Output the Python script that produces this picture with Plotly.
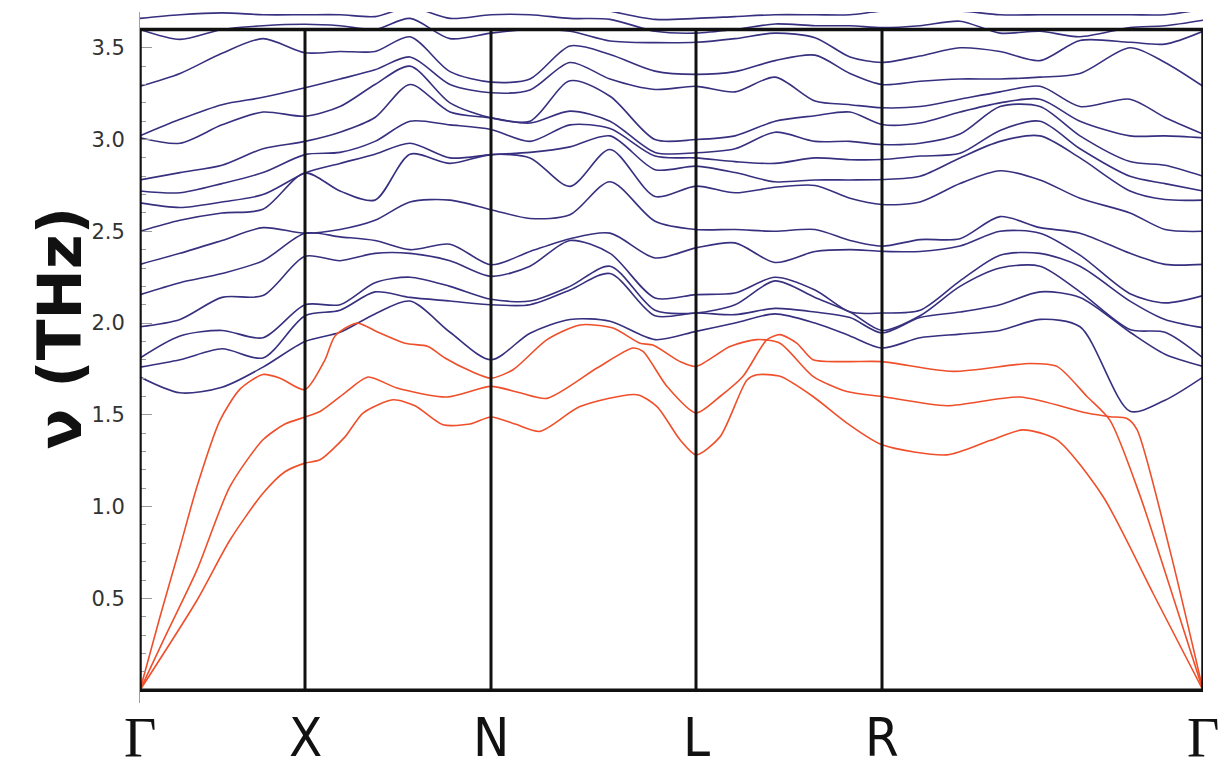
import plotly.graph_objects as go

# ---------------- data ----------------
SYM_LABELS = ["Γ", "X", "N", "L", "R", "Γ"]
SYM_K = [0.0, 1.65, 3.51, 5.56, 7.42, 10.63]
FREQ_TOP = 3.6
Y_TICKS = [0.5, 1.0, 1.5, 2.0, 2.5, 3.0, 3.5]

# path coordinates of the columns at which optical branches are sampled
K_GAMMA_X = [0.0, 0.40, 0.82, 1.23, 1.65]
K_X_N = [2.00, 2.35, 2.70, 3.10, 3.51]
K_N_L = [3.90, 4.30, 4.70, 5.15, 5.56]
K_L_R = [5.95, 6.35, 6.75, 7.10, 7.42]
K_R_GAMMA = [7.80, 8.20, 8.60, 9.00, 9.40, 9.90, 10.25, 10.63]

# optical branch frequencies (THz), one list per column, lowest branch first
OPT_GAMMA_X = [
    [1.706, 1.76, 1.81, 1.98, 2.155, 2.32, 2.50, 2.655, 2.72, 2.78, 3.01, 3.02, 3.29, 3.60, 3.66, 3.72],
    [1.62, 1.80, 1.93, 2.02, 2.22, 2.38, 2.56, 2.63, 2.71, 2.82, 2.98, 3.11, 3.36, 3.546, 3.68, 3.74],
    [1.65, 1.86, 1.96, 2.14, 2.27, 2.45, 2.60, 2.66, 2.76, 2.86, 3.08, 3.19, 3.47, 3.60, 3.69, 3.75],
    [1.76, 1.81, 1.92, 2.15, 2.34, 2.52, 2.62, 2.70, 2.82, 2.95, 3.15, 3.23, 3.55, 3.62, 3.68, 3.75],
    [1.90, 2.04, 2.10, 2.364, 2.49, 2.49, 2.818, 2.818, 2.918, 2.99, 3.127, 3.282, 3.473, 3.628, 3.68, 3.75],
]
OPT_X_N = [
    [1.95, 2.07, 2.10, 2.34, 2.47, 2.51, 2.72, 2.87, 2.93, 3.04, 3.18, 3.33, 3.48, 3.62, 3.68, 3.75],
    [2.05, 2.17, 2.22, 2.38, 2.45, 2.56, 2.67, 2.92, 2.99, 3.12, 3.30, 3.38, 3.48, 3.60, 3.67, 3.75],
    [2.12, 2.14, 2.25, 2.38, 2.40, 2.66, 2.92, 2.98, 3.10, 3.30, 3.40, 3.45, 3.56, 3.66, 3.72, 3.76],
    [1.95, 2.12, 2.20, 2.34, 2.43, 2.67, 2.87, 2.90, 3.08, 3.15, 3.20, 3.30, 3.37, 3.55, 3.66, 3.74],
    [1.80, 2.10, 2.13, 2.255, 2.318, 2.618, 2.918, 2.918, 3.055, 3.118, 3.118, 3.255, 3.313, 3.58, 3.68, 3.74],
]
OPT_N_L = [
    [1.945, 2.10, 2.12, 2.31, 2.39, 2.57, 2.90, 2.93, 2.99, 3.09, 3.10, 3.27, 3.33, 3.60, 3.68, 3.74],
    [2.02, 2.18, 2.20, 2.45, 2.46, 2.59, 2.745, 2.96, 3.08, 3.155, 3.32, 3.42, 3.51, 3.59, 3.66, 3.74],
    [2.01, 2.27, 2.31, 2.38, 2.49, 2.77, 2.946, 3.02, 3.06, 3.10, 3.236, 3.33, 3.464, 3.537, 3.655, 3.70],
    [1.91, 2.04, 2.07, 2.137, 2.355, 2.555, 2.69, 2.836, 2.91, 2.93, 3.00, 3.273, 3.373, 3.528, 3.59, 3.655],
    [1.955, 2.055, 2.055, 2.155, 2.41, 2.51, 2.746, 2.855, 2.90, 2.928, 3.00, 3.29, 3.355, 3.53, 3.58, 3.66],
]
OPT_L_R = [
    [2.00, 2.046, 2.10, 2.164, 2.437, 2.51, 2.71, 2.82, 2.88, 2.95, 3.02, 3.26, 3.37, 3.55, 3.60, 3.67],
    [2.05, 2.08, 2.23, 2.25, 2.33, 2.50, 2.74, 2.77, 2.87, 3.04, 3.10, 3.34, 3.43, 3.58, 3.63, 3.68],
    [2.00, 2.06, 2.14, 2.18, 2.39, 2.51, 2.75, 2.78, 2.90, 2.99, 3.13, 3.21, 3.46, 3.555, 3.62, 3.68],
    [1.93, 2.03, 2.06, 2.06, 2.40, 2.45, 2.68, 2.78, 2.89, 2.99, 3.15, 3.19, 3.36, 3.45, 3.62, 3.68],
    [1.864, 1.946, 1.96, 2.055, 2.391, 2.419, 2.646, 2.782, 2.891, 2.973, 3.082, 3.173, 3.30, 3.42, 3.61, 3.70],
]
OPT_R_GAMMA = [
    [1.92, 2.03, 2.04, 2.07, 2.39, 2.455, 2.66, 2.80, 2.91, 2.98, 3.09, 3.18, 3.318, 3.455, 3.62, 3.70],
    [1.94, 2.06, 2.20, 2.23, 2.42, 2.46, 2.76, 2.90, 2.925, 3.03, 3.15, 3.22, 3.33, 3.50, 3.645, 3.70],
    [1.96, 2.10, 2.30, 2.37, 2.50, 2.58, 2.83, 2.99, 3.05, 3.18, 3.20, 3.26, 3.33, 3.48, 3.58, 3.68],
    [2.02, 2.17, 2.31, 2.38, 2.49, 2.52, 2.78, 3.02, 3.10, 3.18, 3.22, 3.29, 3.34, 3.43, 3.59, 3.68],
    [1.98, 2.14, 2.17, 2.31, 2.37, 2.49, 2.68, 2.90, 2.95, 3.02, 3.10, 3.18, 3.36, 3.54, 3.56, 3.68],
    [1.52, 1.95, 1.965, 2.12, 2.16, 2.38, 2.60, 2.72, 2.80, 2.88, 3.02, 3.22, 3.50, 3.53, 3.61, 3.68],
    [1.58, 1.83, 1.95, 2.02, 2.11, 2.32, 2.51, 2.673, 2.76, 2.86, 3.02, 3.12, 3.42, 3.52, 3.62, 3.68],
    [1.706, 1.764, 1.81, 1.975, 2.15, 2.32, 2.50, 2.67, 2.72, 2.80, 3.01, 3.03, 3.29, 3.59, 3.65, 3.71],
]

# acoustic branches (k, THz)
ACO1_K = [0.0, 0.20, 0.40, 0.57, 0.80, 1.00, 1.23, 1.40, 1.65,
          1.85, 1.95, 2.17, 2.38, 2.65, 2.88, 3.05, 3.30, 3.51,
          3.73, 4.07, 4.40, 4.73, 5.00, 5.13, 5.40, 5.56,
          5.90, 6.17, 6.40, 6.73, 7.07, 7.42,
          8.07, 8.80, 9.47, 9.70, 9.87, 9.97, 10.30, 10.63]
ACO1_F = [0.0, 0.40, 0.78, 1.11, 1.47, 1.64, 1.72, 1.70, 1.637,
          1.80, 1.93, 2.00, 1.95, 1.89, 1.873, 1.81, 1.74, 1.70,
          1.746, 1.91, 1.99, 1.973, 1.89, 1.88, 1.79, 1.764,
          1.873, 1.91, 1.89, 1.71, 1.627, 1.60,
          1.55, 1.597, 1.51, 1.49, 1.48, 1.42, 0.76, 0.0]
ACO2_K = [0.0, 0.25, 0.57, 0.90, 1.23, 1.45, 1.65,
          1.80, 2.05, 2.28, 2.57, 3.07, 3.51,
          3.80, 4.07, 4.57, 4.93, 5.03, 5.27, 5.56,
          5.80, 6.03, 6.27, 6.40, 6.57, 6.73, 7.07, 7.42,
          8.13, 8.90, 9.17, 9.47, 9.70, 10.00, 10.30, 10.63]
ACO2_F = [0.0, 0.29, 0.655, 1.11, 1.364, 1.45, 1.488,
          1.518, 1.62, 1.706, 1.646, 1.597, 1.655,
          1.62, 1.59, 1.755, 1.864, 1.846, 1.655, 1.51,
          1.60, 1.71, 1.91, 1.937, 1.89, 1.80, 1.79, 1.79,
          1.737, 1.78, 1.764, 1.60, 1.47, 1.06, 0.56, 0.0]
ACO3_K = [0.0, 0.57, 0.90, 1.23, 1.45, 1.65,
          1.80, 2.05, 2.23, 2.53, 2.75, 3.03, 3.30, 3.51,
          3.75, 4.00, 4.40, 4.97, 5.17, 5.40, 5.56,
          5.80, 6.07, 6.17, 6.40, 6.73, 7.07, 7.42,
          8.07, 8.50, 8.83, 9.17, 9.63, 10.13, 10.63]
ACO3_F = [0.0, 0.49, 0.818, 1.073, 1.19, 1.237,
          1.255, 1.38, 1.51, 1.582, 1.55, 1.446, 1.45, 1.488,
          1.45, 1.41, 1.545, 1.61, 1.545, 1.364, 1.282,
          1.38, 1.69, 1.718, 1.71, 1.60, 1.455, 1.337,
          1.282, 1.36, 1.418, 1.364, 1.055, 0.528, 0.0]

# ---------------- figure ----------------
BLUE = "#36307f"
RED = "#ef4f2a"

opt_k = K_GAMMA_X + K_X_N + K_N_L + K_L_R + K_R_GAMMA
opt_cols = OPT_GAMMA_X + OPT_X_N + OPT_N_L + OPT_L_R + OPT_R_GAMMA
n_opt = len(opt_cols[0])

fig = go.Figure()
for b in range(n_opt):
    fig.add_trace(go.Scatter(
        x=opt_k, y=[col[b] for col in opt_cols], mode="lines",
        line=dict(color=BLUE, width=1.6, shape="spline", smoothing=0.8),
        hoverinfo="skip", showlegend=False))

for kk, ff in [(ACO1_K, ACO1_F), (ACO2_K, ACO2_F), (ACO3_K, ACO3_F)]:
    fig.add_trace(go.Scatter(
        x=kk, y=ff, mode="lines",
        line=dict(color=RED, width=1.6, shape="spline", smoothing=0.7),
        hoverinfo="skip", showlegend=False))

# frame and high-symmetry lines
shapes = [dict(type="rect", xref="x", yref="y", x0=SYM_K[0], x1=SYM_K[-1],
               y0=0, y1=FREQ_TOP, line=dict(color="#111111", width=3.5), layer="above")]
for k in SYM_K[1:-1]:
    shapes.append(dict(type="line", xref="x", yref="y", x0=k, x1=k, y0=0, y1=FREQ_TOP,
                       line=dict(color="#111111", width=3), layer="above"))

annotations = []
for lab, k in zip(SYM_LABELS, SYM_K):
    if lab == "Γ":
        font = dict(family="Liberation Serif, Times New Roman, serif", size=56, color="#111111")
    else:
        font = dict(family="Liberation Sans Narrow, DejaVu Sans Condensed, Liberation Sans, Arial, sans-serif",
                    size=54, color="#111111")
    annotations.append(dict(text=lab, x=k, xref="x", y=-0.0985, yref="paper",
                            xanchor="center", yanchor="bottom", showarrow=False, font=font))

annotations.append(dict(text="<b>ν (THz)</b>", x=-0.0755, xref="paper", y=0.543, yref="paper",
                        textangle=-90, xanchor="center", yanchor="middle", showarrow=False,
                        font=dict(family="DejaVu Sans, Arial, sans-serif", size=60, color="#111111")))

fig.update_layout(
    width=1227, height=772,
    margin=dict(l=140, r=24, t=12, b=69),
    paper_bgcolor="white", plot_bgcolor="white",
    shapes=shapes, annotations=annotations,
    showlegend=False,
)
fig.update_xaxes(range=[SYM_K[0], SYM_K[-1]], showticklabels=False, showgrid=False,
                 zeroline=False, showline=False, ticks="")
fig.update_yaxes(range=[-0.07, 3.695], tickmode="array", tickvals=Y_TICKS,
                 ticktext=[f"{v:.1f}" for v in Y_TICKS],
                 ticks="inside", ticklen=12, tickwidth=1, tickcolor="#9a9a9a",
                 minor=dict(tick0=0, dtick=0.1, ticks="inside", ticklen=6, tickcolor="#9a9a9a", showgrid=False),
                 showline=True, linecolor="#a0a0a0", linewidth=1,
                 showgrid=False, zeroline=False,
                 tickfont=dict(family="DejaVu Sans, Arial, sans-serif", size=21, color="#333333"),
                 ticklabelstandoff=10)

fig.write_html("out.html")
